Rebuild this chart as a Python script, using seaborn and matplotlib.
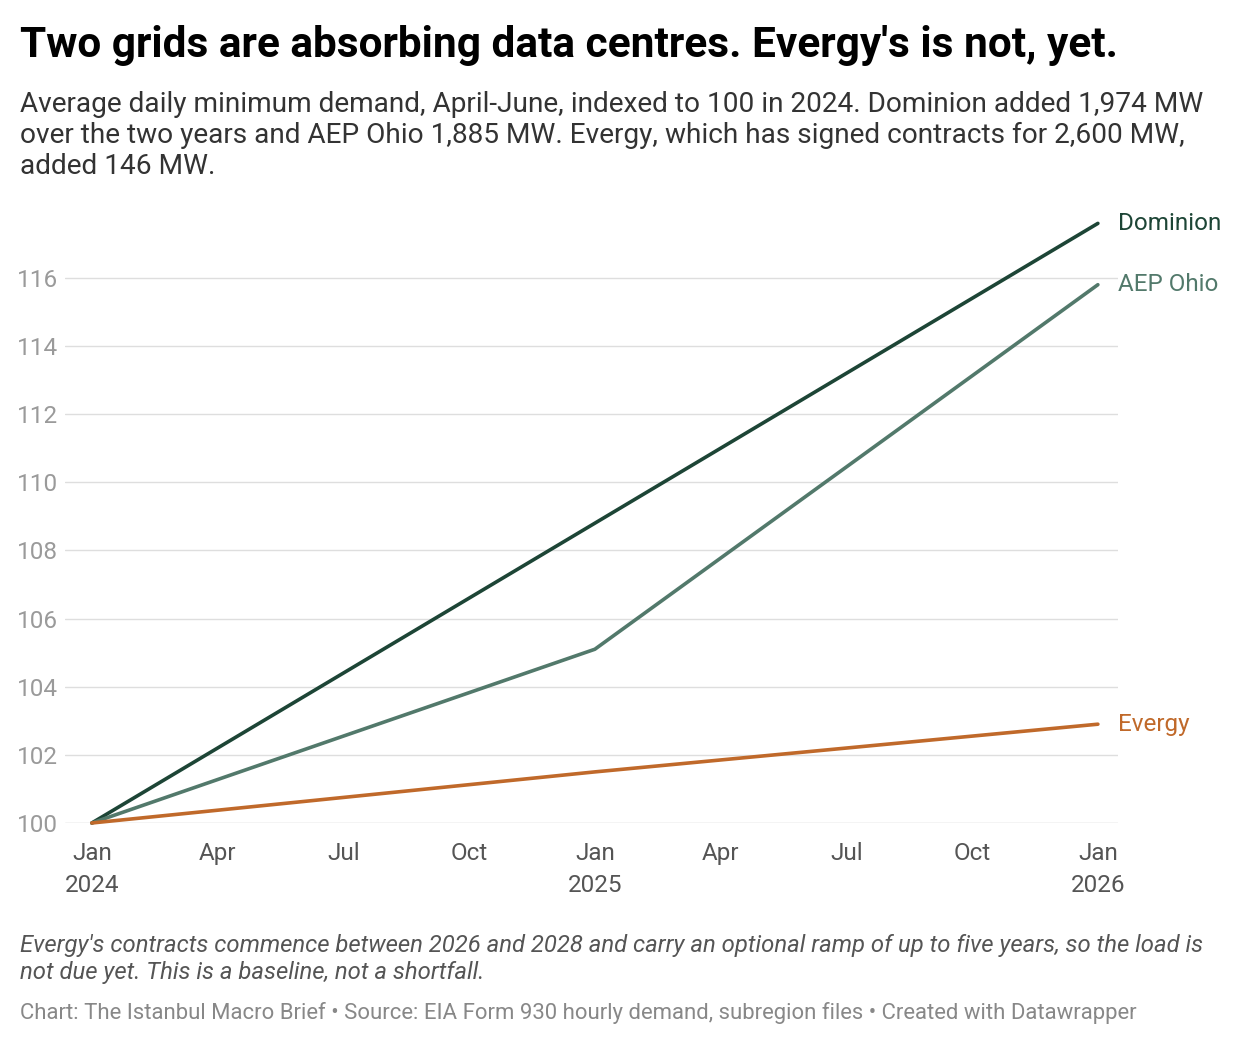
import numpy as np
import pandas as pd
import matplotlib
matplotlib.use("Agg")
import matplotlib.pyplot as plt
import seaborn as sns

# Data (index, 2024 = 100)
months = [0, 12, 24]  # months since Jan 2024
dominion = [100, 108.8, 117.6]
aep_ohio = [100, 105.1, 115.8]
evergy = [100, 101.5, 102.9]
series_names = ["Dominion", "AEP Ohio", "Evergy"]
colors = ["#1d4536", "#52796b", "#c0692a"]

x_ticks = [0, 3, 6, 9, 12, 15, 18, 21, 24]
x_labels = ["Jan\n2024", "Apr", "Jul", "Oct", "Jan\n2025", "Apr", "Jul", "Oct", "Jan\n2026"]
y_ticks = [100, 102, 104, 106, 108, 110, 112, 114, 116]

df = pd.DataFrame({
    "month": months * 3,
    "value": dominion + aep_ohio + evergy,
    "series": sum([[n] * 3 for n in series_names], []),
})

sns.set_style("white")
plt.rcParams["font.family"] = ["Roboto", "DejaVu Sans"]

fig = plt.figure(figsize=(12.4, 10.46), dpi=100)
ax = fig.add_axes([65 / 1240, 0.2132, (1118 - 65) / 1240, 0.7897 - 0.2132])

sns.lineplot(data=df, x="month", y="value", hue="series", palette=colors,
             hue_order=series_names, linewidth=2.6, legend=False, ax=ax,
             clip_on=False)

ax.set_xlim(-0.64, 24.48)
ax.set_ylim(100, 117.7)
for y in y_ticks:
    ax.axhline(y, color="#dedede" if y != 100 else "#c8c8c8", lw=1, zorder=0)
ax.set_yticks(y_ticks)
ax.set_yticklabels([str(v) for v in y_ticks], fontsize=17.5, color="#9a9a9a")
ax.set_xticks(x_ticks)
ax.set_xticklabels(x_labels, fontsize=17.5, color="#555555", linespacing=1.45)
ax.tick_params(length=0, axis="y", pad=5)
ax.tick_params(length=0, axis="x", pad=14)
ax.set_xlabel("")
ax.set_ylabel("")
sns.despine(ax=ax, left=True, bottom=True)

ends = [dominion[-1], aep_ohio[-1], evergy[-1]]
for name, val, c in zip(series_names, ends, colors):
    ax.text(24.48, val, name, color=c, fontsize=17.5, va="center", ha="left",
            clip_on=False)

fig.text(20 / 1240, 1 - 45 / 1046, "Two grids are absorbing data centres. Evergy's is not, yet.",
         fontsize=30.5, fontweight="bold", va="center", ha="left", color="#000000")
fig.text(20 / 1240, 1 - 91 / 1046,
         "Average daily minimum demand, April-June, indexed to 100 in 2024. Dominion added 1,974 MW\n"
         "over the two years and AEP Ohio 1,885 MW. Evergy, which has signed contracts for 2,600 MW,\n"
         "added 146 MW.",
         fontsize=20.2, va="top", ha="left", color="#333333", linespacing=1.2)
fig.text(20 / 1240, 1 - 934 / 1046,
         "Evergy's contracts commence between 2026 and 2028 and carry an optional ramp of up to five years, so the load is\n"
         "not due yet. This is a baseline, not a shortfall.",
         fontsize=17.2, style="italic", va="top", ha="left", color="#555555", linespacing=1.2)
fig.text(20 / 1240, 1 - 1013 / 1046,
         "Chart: The Istanbul Macro Brief \u2022 Source: EIA Form 930 hourly demand, subregion files \u2022 Created with Datawrapper",
         fontsize=15.9, va="center", ha="left", color="#888888")

fig.savefig("out.png", dpi=100, facecolor="white")
